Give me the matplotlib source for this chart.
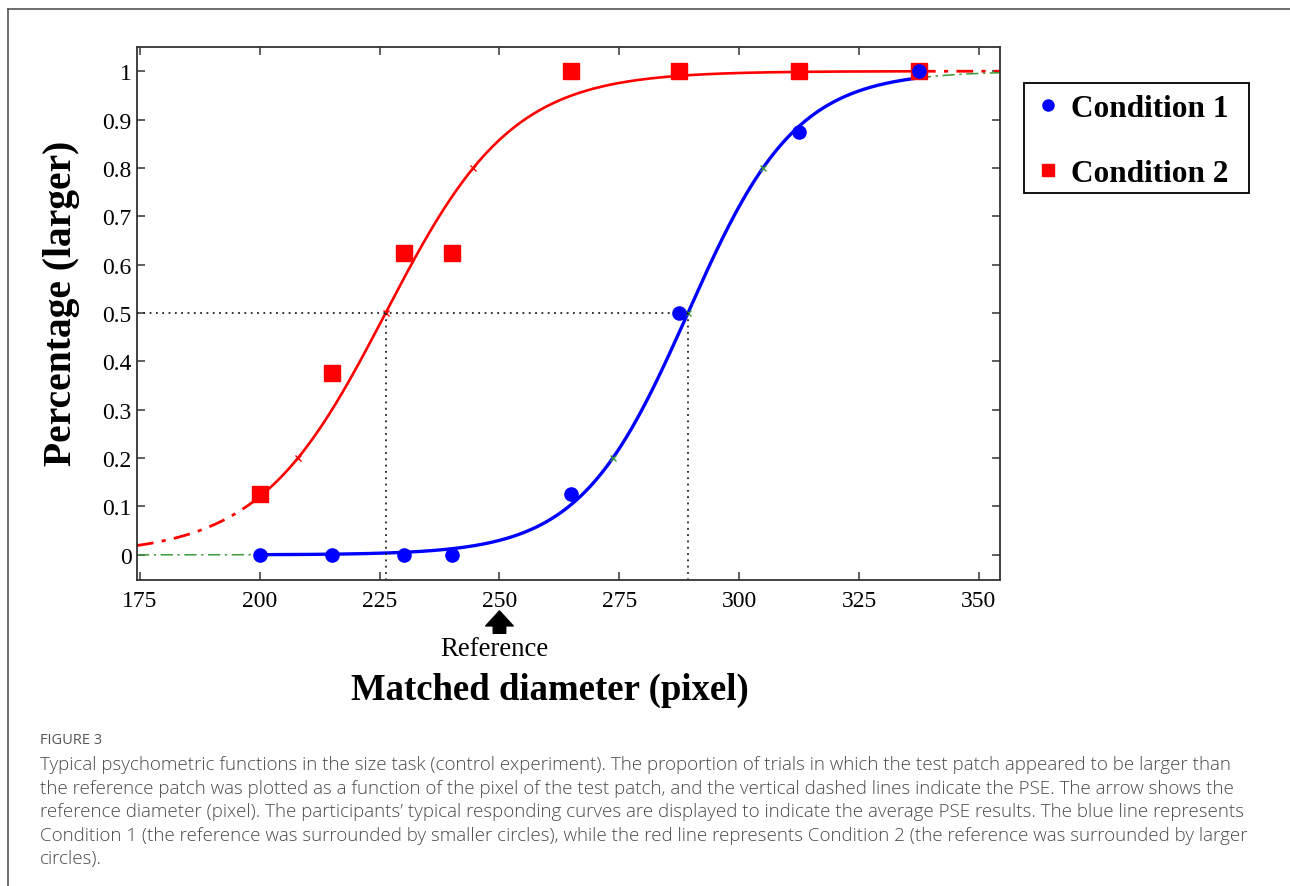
import numpy as np
import matplotlib
matplotlib.use('Agg')
import matplotlib.pyplot as plt
from matplotlib.lines import Line2D
from matplotlib.patches import Rectangle

# observed proportions ("larger" responses) per test diameter
diam = [200, 215, 230, 240, 265, 287.5, 312.5, 337.5]
cond1 = [0, 0, 0, 0, 0.125, 0.5, 0.875, 1]
cond2 = [0.125, 0.375, 0.625, 0.625, 1, 1, 1, 1]

# logistic fit parameters (PSE, spread) for each condition
pse = {'c1': 289.3, 'c2': 226.25}
spread = {'c1': 11.3, 'c2': 13.2}
thresholds = [0.2, 0.5, 0.8]

xticks = [175, 200, 225, 250, 275, 300, 325, 350]
yticks = [0, 0.1, 0.2, 0.3, 0.4, 0.5, 0.6, 0.7, 0.8, 0.9, 1]
ytick_labels = ['0', '0.1', '0.2', '0.3', '0.4', '0.5', '0.6', '0.7', '0.8', '0.9', '1']

caption = [
    "Typical psychometric functions in the size task (control experiment). The proportion of trials in which the test patch appeared to be larger than",
    "the reference patch was plotted as a function of the pixel of the test patch, and the vertical dashed lines indicate the PSE. The arrow shows the",
    "reference diameter (pixel). The participants\u2019 typical responding curves are displayed to indicate the average PSE results. The blue line represents",
    "Condition 1 (the reference was surrounded by smaller circles), while the red line represents Condition 2 (the reference was surrounded by larger",
    "circles).",
]

SERIF = 'Liberation Serif'
GREEN = '#3a9a3a'


def logistic(x, m, s):
    return 1.0 / (1.0 + np.exp(-(np.asarray(x) - m) / s))


def inv_logistic(p, m, s):
    return m + s * np.log(p / (1 - p))


W, H = 1290, 887
fig = plt.figure(figsize=(W / 100, H / 100), dpi=100)
ax = fig.add_axes([137 / W, 1 - 581 / H, (1000 - 137) / W, (581 - 48) / H])

xlo, xhi = 174.4, 354.4
ax.set_xlim(xlo, xhi)
ax.set_ylim(-0.052, 1.05)

x_in = np.linspace(diam[0], diam[-1], 400)
x_left = np.linspace(xlo, diam[0], 60)
x_right = np.linspace(diam[-1], xhi, 60)

# condition 2 (red): fitted curve, extrapolations dash-dot
m, s = pse['c2'], spread['c2']
ax.plot(x_left, logistic(x_left, m, s), color='red', lw=2, ls=(0, (6, 3, 1.5, 3)))
ax.plot(x_right, logistic(x_right, m, s), color='red', lw=2, ls=(0, (6, 3, 1.5, 3)))
ax.plot(x_in, logistic(x_in, m, s), color='red', lw=1.9)
xt = inv_logistic(np.array(thresholds), m, s)
ax.plot(xt, thresholds, 'x', color='red', ms=5, mew=1)

# condition 1 (blue): fitted curve, green extrapolations
m, s = pse['c1'], spread['c1']
ax.plot(x_left, logistic(x_left, m, s), color=GREEN, lw=1.1, ls=(0, (8, 3, 1.5, 3)))
ax.plot(x_right, logistic(x_right, m, s), color=GREEN, lw=1.1, ls=(0, (8, 3, 1.5, 3)))
ax.plot(x_in, logistic(x_in, m, s), color='blue', lw=2.4)
xt = inv_logistic(np.array(thresholds), m, s)
ax.plot(xt, thresholds, 'x', color=GREEN, ms=5, mew=1)

# PSE guide lines
ax.plot([xlo, pse['c1']], [0.5, 0.5], color='#222222', ls=(0, (1, 2.5)), lw=1.3)
for key in ('c2', 'c1'):
    ax.plot([pse[key], pse[key]], [0.5, -0.052], color='#222222', ls=(0, (1, 2.5)), lw=1.3)

# data points
ax.plot(diam, cond2, 's', color='red', ms=11, zorder=5)
ax.plot(diam, cond1, 'o', color='blue', ms=9.5, zorder=6)

ax.set_xticks(xticks)
ax.set_xticklabels([str(t) for t in xticks])
ax.set_yticks(yticks)
ax.set_yticklabels(ytick_labels)
ax.tick_params(direction='in', length=6, width=1.1, top=True, right=True,
               labelsize=17, color='#333333')
ax.tick_params(axis='x', pad=7)
ax.tick_params(axis='y', pad=4)
for lab in ax.get_xticklabels() + ax.get_yticklabels():
    lab.set_fontfamily(SERIF)
for sp in ax.spines.values():
    sp.set_linewidth(1.3)
    sp.set_color('#333333')

# reference arrow below the axis
ax.annotate('', xy=(250, -0.058), xytext=(250, -0.100),
            xycoords=('data', 'axes fraction'), textcoords=('data', 'axes fraction'),
            arrowprops=dict(arrowstyle='simple,head_width=1.1,head_length=0.6,tail_width=0.5',
                            color='black', mutation_scale=18, shrinkA=0, shrinkB=0),
            annotation_clip=False)
ax.text(249, -0.105, 'Reference', transform=ax.get_xaxis_transform(),
        ha='center', va='top', fontsize=19.3, family=SERIF)

fig.text(550 / W, 1 - 690 / H, 'Matched diameter (pixel)', ha='center', va='center',
         fontsize=26.5, fontweight='bold', family=SERIF)
fig.text(62 / W, 1 - 303 / H, 'Percentage (larger)', ha='center', va='center',
         rotation=90, fontsize=28.5, fontweight='bold', family=SERIF)

# legend with a separately drawn box
handles = [Line2D([], [], marker='o', ls='none', color='blue', ms=8),
           Line2D([], [], marker='s', ls='none', color='red', ms=8)]
fig.legend(handles, ['Condition 1', 'Condition 2'], loc='upper left',
           bbox_to_anchor=(1035 / W, 1 - 95 / H), frameon=False,
           prop={'family': SERIF, 'weight': 'bold', 'size': 22.5},
           handlelength=0.8, handletextpad=0.35, labelspacing=1.15,
           borderpad=0, borderaxespad=0)
fig.add_artist(Rectangle((1024 / W, 1 - 194 / H), (1249 - 1024) / W, (194 - 84) / H,
                         transform=fig.transFigure, fill=False, edgecolor='black', lw=1.3))

# card border and caption
fig.add_artist(Line2D([8 / W, 8 / W], [0, 1 - 10 / H], color='#555555', lw=1.2))
fig.add_artist(Line2D([8 / W, 1], [1 - 10 / H, 1 - 10 / H], color='#555555', lw=1.2))
fig.text(40 / W, 1 - 741 / H, 'FIGURE 3', ha='left', va='center', fontsize=10.5,
         color='#555555', family='Open Sans')

# size caption text so the first line fills the column width
renderer = fig.canvas.get_renderer()
probe = fig.text(0, 0, caption[0], fontsize=12, family='Open Sans', fontweight='light')
cap_size = 12 * (1233 - 40) / probe.get_window_extent(renderer).width
probe.remove()
for i, line in enumerate(caption):
    fig.text(40 / W, 1 - (765 + 23.6 * i) / H, line, ha='left', va='center',
             fontsize=cap_size, color='#4a4a4a', family='Open Sans', fontweight='light')

fig.savefig('out.png', dpi=100)
